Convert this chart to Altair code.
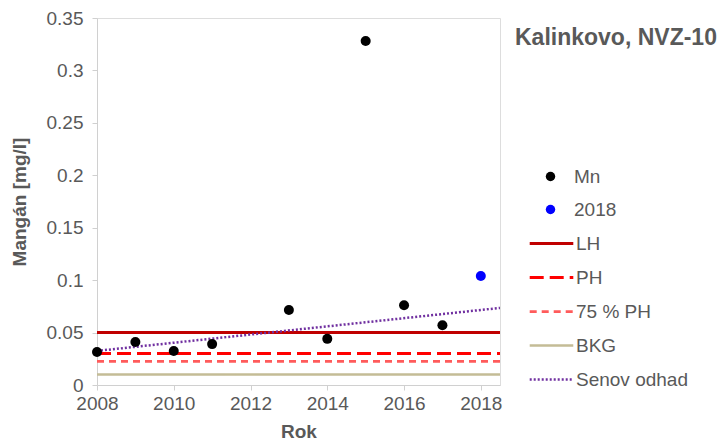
import altair as alt
import pandas as pd

# Measured values
years = [2008, 2009, 2010, 2011, 2013, 2014, 2015, 2016, 2017]
mn = [0.0315, 0.041, 0.0325, 0.039, 0.0715, 0.044, 0.328, 0.076, 0.057]
year_2018 = [2018]
mn_2018 = [0.104]

# Limits (horizontal reference lines)
limit_names = ["LH", "PH", "75 % PH", "BKG"]
limit_values = [0.05, 0.03, 0.0225, 0.01]
x_range = [2008, 2018.5]

# Sen's slope estimate (end points)
sen_x = [2008, 2018.5]
sen_y = [0.0325, 0.0735]

line_names = ["LH", "PH", "75 % PH", "BKG", "Senov odhad"]
line_colors = ["#C00000", "#FF0000", "#FF5B5B", "#C4BC96", "#7030A0"]
line_dashes = [[1, 0], [14, 6], [7, 5], [1, 0], [2, 2]]
line_widths = [3, 2.5, 2, 2, 1.8]

pt_names = ["Mn", "2018"]
pt_colors = ["#000000", "#0000FF"]

rows = []
for n, v in zip(limit_names, limit_values):
    for x in x_range:
        rows.append({"rok": x, "val": v, "serie": n})
for x, y in zip(sen_x, sen_y):
    rows.append({"rok": x, "val": y, "serie": "Senov odhad"})
lines_df = pd.DataFrame(rows)

pts = pd.DataFrame(
    [{"rok": x, "val": y, "serie": "Mn"} for x, y in zip(years, mn)]
    + [{"rok": x, "val": y, "serie": "2018"} for x, y in zip(year_2018, mn_2018)]
)

FONT = "Liberation Sans"
FS = 19
gray = "#595959"
xscale = alt.Scale(domain=[2008, 2018.5], nice=False, zero=False)
yscale = alt.Scale(domain=[0, 0.35], nice=False)
xaxis = alt.Axis(title="Rok", values=[2008, 2010, 2012, 2014, 2016, 2018], format="d",
                 grid=False, labelFontSize=FS, titleFontSize=FS, labelColor=gray,
                 titleColor=gray, titleFontWeight="bold", domainColor="#D0D0D0",
                 tickColor="#D0D0D0", tickSize=5, labelPadding=4, titlePadding=9,
                 labelFlush=False, labelFont=FONT, titleFont=FONT)
yaxis = alt.Axis(title="Mangán [mg/l]", values=[0, 0.05, 0.1, 0.15, 0.2, 0.25, 0.3, 0.35],
                 grid=False, labelFontSize=FS, titleFontSize=FS, labelColor=gray,
                 titleColor=gray, titleFontWeight="bold", domainColor="#D0D0D0",
                 tickColor="#D0D0D0", tickSize=5, labelPadding=9, titlePadding=17,
                 labelFlush=False, labelFont=FONT, titleFont=FONT,
                 labelExpr="datum.value == 0 ? '0' : format(datum.value, '.2~f')")

line_legend = alt.Legend(title=None, orient="none", legendX=431, legendY=202, padding=0,
                         labelFontSize=FS, labelColor=gray, labelFont=FONT,
                         rowPadding=-11.6, symbolType="stroke", symbolSize=1900,
                         labelOffset=1)

lines = alt.Chart(lines_df).mark_line(clip=True).encode(
    x=alt.X("rok:Q", scale=xscale, axis=xaxis),
    y=alt.Y("val:Q", scale=yscale, axis=yaxis),
    stroke=alt.Stroke("serie:N", scale=alt.Scale(domain=line_names, range=line_colors),
                      legend=line_legend),
    strokeDash=alt.StrokeDash("serie:N", scale=alt.Scale(domain=line_names, range=line_dashes),
                              legend=line_legend),
    strokeWidth=alt.StrokeWidth("serie:N", scale=alt.Scale(domain=line_names, range=line_widths),
                                legend=line_legend),
    detail="serie:N",
)

points = alt.Chart(pts).mark_point(filled=True, size=100, opacity=1, strokeWidth=0).encode(
    x=alt.X("rok:Q", scale=xscale),
    y=alt.Y("val:Q", scale=yscale),
    fill=alt.Fill("serie:N", scale=alt.Scale(domain=pt_names, range=pt_colors),
                  legend=alt.Legend(title=None, orient="none", legendX=444, legendY=149,
                                    padding=0, labelFontSize=FS, labelColor=gray,
                                    labelFont=FONT, rowPadding=13,
                                    symbolType="circle", symbolSize=90,
                                    symbolStrokeWidth=0, labelOffset=14)),
)

chart = alt.layer(lines, points).resolve_legend(
    fill="independent", stroke="shared"
).properties(
    width=403, height=367,
    title=alt.TitleParams("Kalinkovo, NVZ-10", anchor="start", orient="none",
                          dx=418, dy=9, fontSize=23, fontWeight="bold", color=gray,
                          font=FONT, baseline="top"),
    autosize=alt.AutoSizeParams(type="none"),
    padding={"left": 89, "top": 10, "right": 220, "bottom": 57},
).configure_view(stroke="#D0D0D0", strokeWidth=1.5).configure(background="white")

chart.save("out.html", embed_options={"renderer": "svg", "actions": False})
